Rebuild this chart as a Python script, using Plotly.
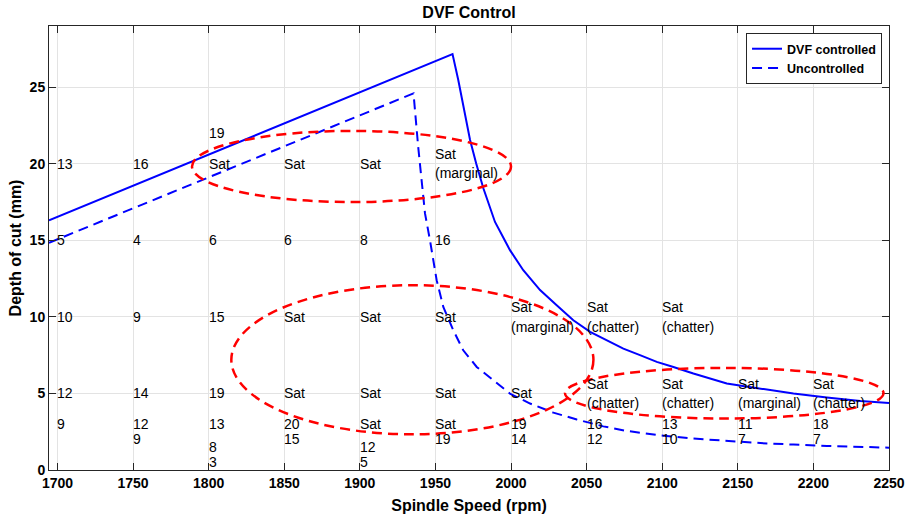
import plotly.graph_objects as go

# ---------------- data ----------------
ctrl_rpm = [1694.4, 1961.3, 1965.1, 1968.4, 1972.9, 1977.0, 1981.7, 1989.4, 1999.3, 2008.1,
            2019.2, 2030.2, 2041.2, 2052.3, 2063.3, 2074.3, 2085.3, 2096.4, 2107.4, 2120.6,
            2142.7, 2164.8, 2186.8, 2208.9, 2231.0, 2250.0]
ctrl_doc = [16.3, 27.17, 25.47, 23.73, 21.55, 20.0, 18.4, 16.2, 14.36, 13.05,
            11.75, 10.76, 9.78, 9.02, 8.48, 7.93, 7.5, 7.06, 6.73, 6.3,
            5.65, 5.32, 4.99, 4.73, 4.51, 4.38]

unc_rpm = [1694.4, 1935.5, 1938.6, 1943.1, 1946.4, 1950.8, 1955.2, 1961.8, 1968.4, 1977.3,
           1988.3, 1999.3, 2012.6, 2028.0, 2043.5, 2061.0, 2076.6, 2098.6, 2120.6, 2142.7,
           2164.8, 2186.8, 2208.9, 2250.0]
unc_doc = [14.84, 24.6, 21.1, 16.76, 15.0, 12.4, 10.65, 9.13, 7.82, 6.73,
           5.86, 4.99, 4.34, 3.75, 3.3, 2.85, 2.55, 2.27, 2.05, 1.9,
           1.76, 1.66, 1.57, 1.46]

# ellipse regions (rpm0, rpm1, doc0, doc1)
ellipse_rpm0 = [1789.0, 1815.0, 2035.7]
ellipse_rpm1 = [2000.0, 2054.5, 2246.4]
ellipse_doc0 = [17.5, 2.33, 3.36]
ellipse_doc1 = [22.15, 12.07, 6.67]

# point labels
label_rpm = [1800,
             1700, 1750, 1800, 1850, 1900, 1950,
             1700, 1750, 1800, 1850, 1900, 1950,
             1700, 1750, 1800, 1850, 1900, 1950, 2000, 2050, 2100,
             1700, 1750, 1800, 1850, 1900, 1950, 2000, 2050, 2100, 2150, 2200,
             1700, 1750, 1800, 1850, 1900, 1950, 2000, 2050, 2100, 2150, 2200,
             1750, 1850, 1950, 2000, 2050, 2100, 2150, 2200,
             1800, 1900,
             1800, 1900]
label_doc = [22,
             20, 20, 20, 20, 20, 20,
             15, 15, 15, 15, 15, 15,
             10, 10, 10, 10, 10, 10, 10, 10, 10,
             5, 5, 5, 5, 5, 5, 5, 5, 5, 5, 5,
             3, 3, 3, 3, 3, 3, 3, 3, 3, 3, 3,
             2, 2, 2, 2, 2, 2, 2, 2,
             1.5, 1.5,
             0.5, 0.5]
label_text = ["19",
              "13", "16", "Sat", "Sat", "Sat", "Sat|(marginal)",
              "5", "4", "6", "6", "8", "16",
              "10", "9", "15", "Sat", "Sat", "Sat", "Sat|(marginal)", "Sat|(chatter)", "Sat|(chatter)",
              "12", "14", "19", "Sat", "Sat", "Sat", "Sat", "Sat|(chatter)", "Sat|(chatter)",
              "Sat|(marginal)", "Sat|(chatter)",
              "9", "12", "13", "20", "Sat", "Sat", "19", "16", "13", "11", "18",
              "9", "15", "19", "14", "12", "10", "7", "7",
              "8", "12",
              "3", "5"]

x_ticks = [1700, 1750, 1800, 1850, 1900, 1950, 2000, 2050, 2100, 2150, 2200, 2250]
y_ticks = [0, 5, 10, 15, 20, 25]

FONT = "Liberation Sans, Arial, Helvetica, sans-serif"

fig = go.Figure()
fig.add_trace(go.Scatter(x=ctrl_rpm, y=ctrl_doc, mode="lines", name="DVF controlled",
                         line=dict(color="#0000ff", width=2)))
fig.add_trace(go.Scatter(x=unc_rpm, y=unc_doc, mode="lines", name="Uncontrolled",
                         line=dict(color="#0000ff", width=2, dash="10px,6px")))

for a0, a1, b0, b1 in zip(ellipse_rpm0, ellipse_rpm1, ellipse_doc0, ellipse_doc1):
    fig.add_shape(type="circle", xref="x", yref="y", x0=a0, x1=a1, y0=b0, y1=b1,
                  line=dict(color="#ff0000", width=2.5, dash="10px,6px"), layer="above")

annotations = []
for xv, yv, t in zip(label_rpm, label_doc, label_text):
    lines = t.split("|")
    n = len(lines)
    for i, ln in enumerate(lines):
        shift = (n - 1) / 2 * 19.4 - i * 19.4
        annotations.append(dict(x=xv, y=yv, xref="x", yref="y", text=ln, showarrow=False,
                                xanchor="left", yanchor="middle", yshift=shift, xshift=-2,
                                font=dict(family=FONT, size=14, color="#000000")))

fig.update_layout(
    width=908, height=520,
    margin=dict(l=49, r=19, t=26, b=50, autoexpand=False),
    paper_bgcolor="white", plot_bgcolor="white",
    title=dict(text="<b>DVF Control</b>", x=0.5, xref="paper", xanchor="center",
               y=1 - 12 / 520, yref="container", yanchor="middle",
               font=dict(family=FONT, size=16, color="#000000")),
    showlegend=True,
    legend=dict(x=0.9917, y=0.984, xanchor="right", yanchor="top",
                bgcolor="white", bordercolor="#262626", borderwidth=1,
                font=dict(family=FONT, size=12.5, color="#000000", weight="bold"),
                itemwidth=30, tracegroupgap=0),
    annotations=annotations,
)
fig.update_xaxes(range=[1694.4, 2250], tickvals=x_ticks, ticks="inside", ticklen=7,
                 tickcolor="#262626", showline=True, linecolor="#262626", linewidth=1,
                 mirror="ticks", showgrid=True, gridcolor="#e3e3e3", gridwidth=1, zeroline=False,
                 automargin=False,
                 tickfont=dict(family=FONT, size=14, color="#000000", weight="bold"),
                 title=dict(text="Spindle Speed (rpm)", standoff=10,
                            font=dict(family=FONT, size=16, color="#000000", weight="bold")))
fig.update_yaxes(range=[0, 29], tickvals=y_ticks, ticks="inside", ticklen=7,
                 tickcolor="#262626", showline=True, linecolor="#262626", linewidth=1,
                 mirror="ticks", showgrid=True, gridcolor="#e3e3e3", gridwidth=1, zeroline=False,
                 automargin=False,
                 tickfont=dict(family=FONT, size=14, color="#000000", weight="bold"),
                 title=dict(text="Depth of cut (mm)", standoff=4,
                            font=dict(family=FONT, size=16, color="#000000", weight="bold")))

fig.write_html("out.html", config={"displayModeBar": False},
               post_script="document.body.style.margin='0';")
